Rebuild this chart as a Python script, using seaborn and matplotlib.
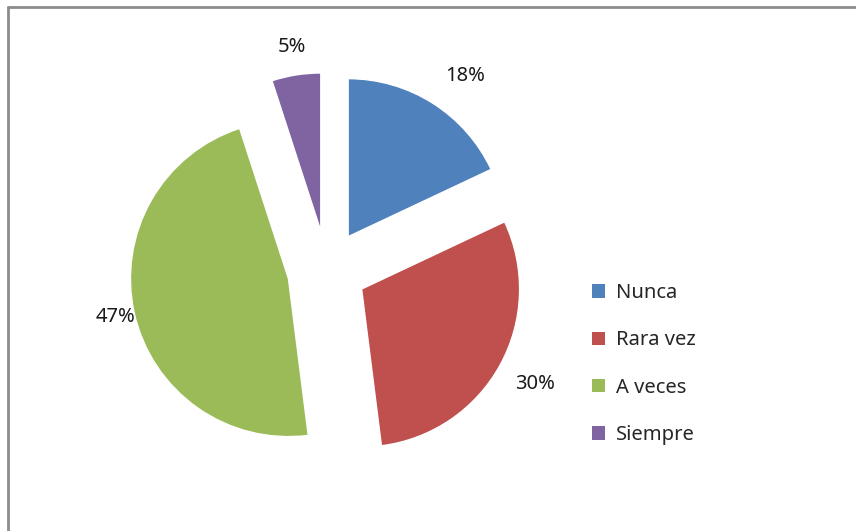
import matplotlib
matplotlib.use("Agg")
import numpy as np
import matplotlib.pyplot as plt
from matplotlib.lines import Line2D
from matplotlib.patches import Patch
import seaborn as sns

# datos de la encuesta
categorias = ["Nunca", "Rara vez", "A veces", "Siempre"]
porcentajes = [18, 30, 47, 5]
colores = ["#4F81BD", "#C0504D", "#9BBB59", "#8064A2"]

sns.set_theme(style="white")
plt.rcParams["font.family"] = ["Noto Sans", "DejaVu Sans"]

fig = plt.figure(figsize=(8.56, 5.31), dpi=100)
fig.patch.set_facecolor("white")

# ejes del pastel: centro en (327, 270) px, radio 158 px
W, H = 856, 531
cx, cy, esc = 327, 270, 158
lim = 1.6
ax = fig.add_axes([(cx - lim * esc) / W, (H - cy - lim * esc) / H,
                   2 * lim * esc / W, 2 * lim * esc / H])
explode = 0.25
wedges, textos, autotextos = ax.pie(
    porcentajes,
    colors=colores,
    explode=[explode] * len(porcentajes),
    startangle=90,
    counterclock=False,
    autopct="%d%%",
    pctdistance=1.24,
    radius=1,
    textprops={"fontsize": 14.5, "color": "#1a1a1a"},
)

# distancia / giro de cada etiqueta (como en Excel, "ajuste óptimo")
dist_etiquetas = [1.26, 1.25, 1.12, 1.18]
giro_etiquetas = [-3, 0, 0, 0]
for w, t, d, g in zip(wedges, autotextos, dist_etiquetas, giro_etiquetas):
    ang = np.deg2rad((w.theta1 + w.theta2) / 2 + g)
    t.set_position(((explode + d) * np.cos(ang), (explode + d) * np.sin(ang)))

ax.set_xlim(-lim, lim)
ax.set_ylim(-lim, lim)
ax.set_aspect("equal")
ax.axis("off")

# leyenda
handles = [Patch(facecolor=c, edgecolor="none", label=l)
           for c, l in zip(colores, categorias)]
fig.legend(handles=handles, loc="center left",
           bbox_to_anchor=(574 / W, 1 - 364 / H),
           frameon=False, fontsize=14.5, labelspacing=1.36,
           handlelength=0.65, handleheight=0.65, handletextpad=0.55)

# marco parcial (arriba e izquierda)
gris = "#8c8c8c"
fig.add_artist(Line2D([8 / W, 8 / W], [0, 1 - 7 / H], color=gris, lw=2,
                      transform=fig.transFigure))
fig.add_artist(Line2D([8 / W, 1], [1 - 7 / H, 1 - 7 / H], color=gris, lw=2,
                      transform=fig.transFigure))

fig.savefig("out.png", dpi=100)
